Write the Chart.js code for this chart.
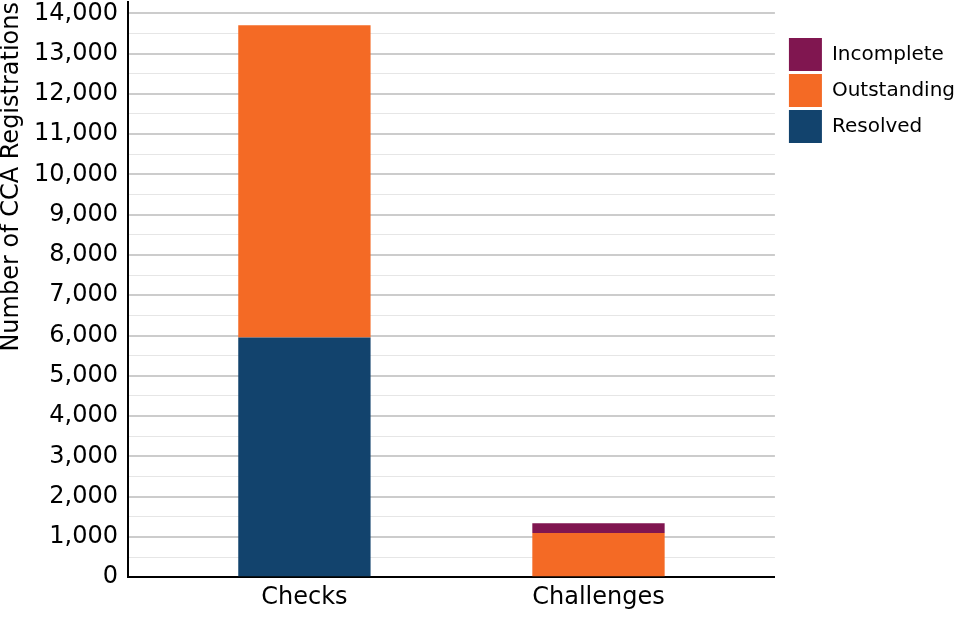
<!DOCTYPE html>
<html>
<head>
<meta charset="utf-8">
<script src="https://cdn.jsdelivr.net/npm/chart.js@4"></script>
<style>
  body { margin: 0; background: #fff; }
  #wrap { width: 960px; height: 640px; }
</style>
</head>
<body>
<div id="wrap"><canvas id="myChart" width="960" height="640"></canvas></div>
<script>
// categories and series values
const categories = ['Checks', 'Challenges'];
const resolved = [5950, 0];
const outstanding = [7750, 1100];
const incomplete = [0, 240];
const yTicks = [0, 1000, 2000, 3000, 4000, 5000, 6000, 7000, 8000, 9000, 10000, 11000, 12000, 13000, 14000];

// bars sit on a linear x so the spacing can match the original
function points(values) {
  return values.map((v, i) => ({ x: i, y: v }));
}

const data = {
  datasets: [
    { label: 'Resolved', data: points(resolved), backgroundColor: '#12436D' },
    { label: 'Outstanding', data: points(outstanding), backgroundColor: '#F46A25' },
    { label: 'Incomplete', data: points(incomplete), backgroundColor: '#801650' }
  ]
};

// push the legend a little away from the plot area
const legendGap = {
  id: 'legendGap',
  afterLayout(chart) {
    if (chart.legend) chart.legend.left += 11;
  }
};

const ctx = document.getElementById('myChart').getContext('2d');

const myChart = new Chart(ctx, {
  type: 'bar',
  data: data,
  plugins: [legendGap],
  options: {
    responsive: false,
    animation: false,
    devicePixelRatio: 1,
    layout: { padding: { top: 2, bottom: 30, left: 0, right: 6 } },
    datasets: {
      bar: { categoryPercentage: 1, barPercentage: 0.45 }
    },
    plugins: {
      tooltip: { enabled: false },
      legend: {
        position: 'right',
        align: 'start',
        reverse: true,
        title: {
          display: true,
          text: '',
          padding: { top: 21, bottom: 0 },
          font: { size: 10 }
        },
        labels: {
          boxWidth: 33,
          boxHeight: 33,
          padding: 3,
          color: '#000',
          font: { family: 'DejaVu Sans', size: 20 }
        }
      }
    },
    scales: {
      x: {
        type: 'linear',
        stacked: true,
        min: -0.6,
        max: 1.6,
        offset: false,
        grid: { display: false },
        border: { color: '#000', width: 2 },
        afterBuildTicks: (axis) => {
          axis.ticks = categories.map((c, i) => ({ value: i }));
        },
        ticks: {
          color: '#000',
          padding: -2,
          autoSkip: false,
          font: { family: 'DejaVu Sans', size: 24 },
          callback: (value) => categories[value] || ''
        }
      },
      y: {
        stacked: true,
        min: 0,
        max: 14280,
        afterBuildTicks: (axis) => {
          const t = [];
          yTicks.forEach((v, i) => {
            t.push({ value: v });
            if (i < yTicks.length - 1) t.push({ value: v + 500 });
          });
          axis.ticks = t;
        },
        afterFit: (axis) => {
          axis.paddingTop = 0;
        },
        grid: {
          drawTicks: false,
          color: (c) => (c.tick && c.tick.value % 1000 === 0) ? '#cccccc' : '#e6e6e6',
          lineWidth: (c) => (c.tick && c.tick.value % 1000 === 0) ? 2 : 1
        },
        border: { color: '#000', width: 2 },
        ticks: {
          color: '#000',
          padding: 10,
          autoSkip: false,
          font: { family: 'DejaVu Sans', size: 24 },
          callback: (value) => value % 1000 === 0 ? value.toLocaleString('en-US') : ''
        },
        title: {
          display: true,
          text: 'Number of CCA Registrations',
          align: 'end',
          color: '#000',
          padding: { top: 0, bottom: 0 },
          font: { family: 'DejaVu Sans', size: 24, lineHeight: 1 }
        }
      }
    }
  }
});
</script>
</body>
</html>
